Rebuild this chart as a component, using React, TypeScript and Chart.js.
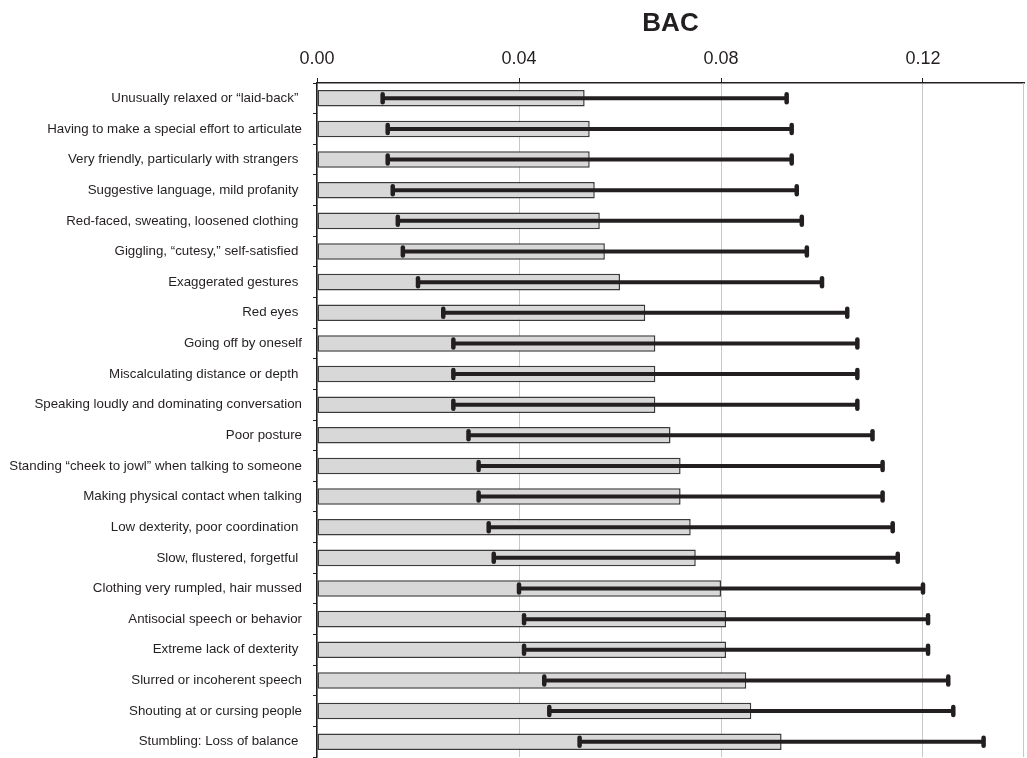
import React, { useEffect, useRef } from "react";
import { Chart, registerables } from "chart.js";

Chart.register(...registerables);

const categories: string[] = [
  "Unusually relaxed or \u201Claid-back\u201D ",
  "Having to make a special effort to articulate",
  "Very friendly, particularly with strangers ",
  "Suggestive language, mild profanity ",
  "Red-faced, sweating, loosened clothing ",
  "Giggling, \u201Ccutesy,\u201D self-satisfied ",
  "Exaggerated gestures ",
  "Red eyes ",
  "Going off by oneself",
  "Miscalculating distance or depth ",
  "Speaking loudly and dominating conversation",
  "Poor posture",
  "Standing \u201Ccheek to jowl\u201D when talking to someone",
  "Making physical contact when talking",
  "Low dexterity, poor coordination ",
  "Slow, flustered, forgetful ",
  "Clothing very rumpled, hair mussed",
  "Antisocial speech or behavior",
  "Extreme lack of dexterity ",
  "Slurred or incoherent speech",
  "Shouting at or cursing people",
  "Stumbling: Loss of balance ",
];

const meanBAC: number[] = [
  0.053, 0.054, 0.054, 0.055, 0.056, 0.057, 0.06, 0.065, 0.067, 0.067, 0.067,
  0.07, 0.072, 0.072, 0.074, 0.075, 0.08, 0.081, 0.081, 0.085, 0.086, 0.092,
];

const lowBAC: number[] = [
  0.013, 0.014, 0.014, 0.015, 0.016, 0.017, 0.02, 0.025, 0.027, 0.027, 0.027,
  0.03, 0.032, 0.032, 0.034, 0.035, 0.04, 0.041, 0.041, 0.045, 0.046, 0.052,
];

const highBAC: number[] = [
  0.093, 0.094, 0.094, 0.095, 0.096, 0.097, 0.1, 0.105, 0.107, 0.107, 0.107,
  0.11, 0.112, 0.112, 0.114, 0.115, 0.12, 0.121, 0.121, 0.125, 0.126, 0.132,
];

const xTickValues: number[] = [0, 0.04, 0.08, 0.12];
const xMax = 0.14;

const INK = "#231f20";
const FONT = "'Liberation Sans', Arial, Helvetica, sans-serif";

const errorBarPlugin = {
  id: "errorBars",
  afterDatasetsDraw(chart: any) {
    const xs = chart.scales.x;
    const ys = chart.scales.y;
    const ctx = chart.ctx;
    ctx.save();
    ctx.strokeStyle = INK;
    for (let i = 0; i < categories.length; i++) {
      const y = ys.getPixelForValue(i);
      const x1 = xs.getPixelForValue(lowBAC[i]);
      const x2 = xs.getPixelForValue(highBAC[i]);
      ctx.lineCap = "butt";
      ctx.lineWidth = 4;
      ctx.beginPath();
      ctx.moveTo(x1, y);
      ctx.lineTo(x2, y);
      ctx.stroke();
      ctx.lineCap = "round";
      ctx.lineWidth = 4.5;
      for (const x of [x1, x2]) {
        ctx.beginPath();
        ctx.moveTo(x, y - 4);
        ctx.lineTo(x, y + 4);
        ctx.stroke();
      }
    }
    ctx.restore();
  },
  beforeDatasetsDraw(chart: any) {
    const { ctx, chartArea } = chart;
    ctx.save();
    ctx.strokeStyle = "#c8c8c8";
    ctx.lineWidth = 1;
    ctx.beginPath();
    ctx.moveTo(chartArea.right - 0.5, chartArea.top);
    ctx.lineTo(chartArea.right - 0.5, chartArea.bottom);
    ctx.stroke();
    ctx.restore();
  },
};

export default function App() {
  const ref = useRef<HTMLCanvasElement | null>(null);
  useEffect(() => {
    if (!ref.current) return;
    const chart = new Chart(ref.current, {
      type: "bar",
      data: {
        labels: categories,
        datasets: [
          {
            data: meanBAC,
            backgroundColor: "#d8d8d8",
            borderColor: "#3a3a3a",
            borderWidth: 1.5,
            borderSkipped: false,
            barPercentage: 0.54,
            categoryPercentage: 1,
          },
        ],
      },
      options: {
        indexAxis: "y",
        responsive: true,
        maintainAspectRatio: false,
        animation: false,
        devicePixelRatio: 1,
        layout: { padding: { left: 0, right: 3, top: 0, bottom: 1 } },
        plugins: {
          legend: { display: false },
          tooltip: { enabled: false },
          title: {
            display: true,
            text: "BAC",
            fullSize: false,
            color: INK,
            font: { family: FONT, size: 26, weight: "bold" },
            padding: { top: 8, bottom: 0 },
          },
        },
        scales: {
          x: {
            position: "top",
            min: 0,
            max: xMax,
            afterBuildTicks: (scale: any) => {
              scale.ticks = xTickValues.map((v) => ({ value: v }));
            },
            afterFit: (scale: any) => {
              scale.height = 43.8;
              scale.paddingLeft = 0;
              scale.paddingRight = 0;
            },
            ticks: {
              color: INK,
              font: { family: FONT, size: 18 },
              padding: 8.5,
              callback: (v: any) => Number(v).toFixed(2),
            },
            grid: {
              color: "#c8c8c8",
              lineWidth: 1,
              tickColor: INK,
              tickLength: 5,
            },
            border: { display: true, color: INK, width: 1.5 },
          },
          y: {
            afterFit: (scale: any) => {
              scale.width = 317;
              scale.paddingTop = 0;
              scale.paddingBottom = 0;
            },
            ticks: {
              color: INK,
              font: { family: FONT, size: 13.3 },
              padding: 11,
              autoSkip: false,
            },
            grid: {
              drawOnChartArea: false,
              offset: true,
              tickColor: INK,
              tickLength: 4,
            },
            border: { display: true, color: INK, width: 1.5 },
          },
        },
      },
      plugins: [errorBarPlugin],
    } as any);
    return () => chart.destroy();
  }, []);
  return (
    <div style={{ position: "fixed", left: 0, top: 0, width: 1027, height: 758, background: "#fff" }}>
      <canvas ref={ref} style={{ display: "block" }} />
    </div>
  );
}
